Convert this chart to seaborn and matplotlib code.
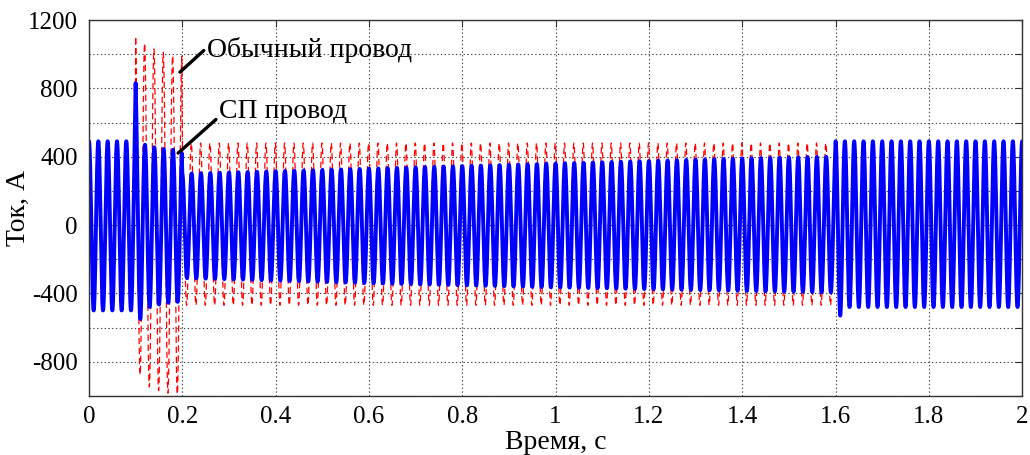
import numpy as np
import pandas as pd
import matplotlib
matplotlib.use("Agg")
import matplotlib.pyplot as plt
import seaborn as sns

# ---- data (envelope breakpoints, 50 Hz current) ----
freq_hz = 50
# Ordinary wire (red, dashed): positive / negative peak envelope
red_t_pos = [0.0, 0.099, 0.10, 0.12, 0.14, 0.16, 0.18, 0.199, 0.20, 2.0]
red_v_pos = [480, 480, 1140, 1060, 1030, 1010, 990, 990, 480, 480]
red_t_neg = [0.0, 0.099, 0.11, 0.13, 0.15, 0.17, 0.19, 0.199, 0.20, 2.0]
red_v_neg = [-470, -470, -900, -950, -970, -985, -990, -990, -470, -470]
# Superconducting wire (blue, thick)
blue_t_pos = [0.0, 0.095, 0.10, 0.105, 0.12, 0.14, 0.16, 0.18, 0.199, 0.20, 0.6, 1.0, 1.4, 1.599, 1.60, 2.0]
blue_v_pos = [490, 490, 830, 480, 470, 455, 445, 440, 440, 300, 330, 360, 390, 400, 490, 490]
blue_t_neg = [0.0, 0.099, 0.11, 0.13, 0.15, 0.17, 0.19, 0.199, 0.20, 0.6, 1.0, 1.4, 1.599, 1.61, 1.63, 2.0]
blue_v_neg = [-500, -500, -550, -480, -465, -455, -450, -450, -310, -340, -365, -385, -395, -530, -480, -480]

x_ticks = [0, 0.2, 0.4, 0.6, 0.8, 1, 1.2, 1.4, 1.6, 1.8, 2]
x_tick_labels = ["0", "0.2", "0.4", "0.6", "0.8", "1", "1.2", "1.4", "1.6", "1.8", "2"]
y_ticks = [-1000, -800, -600, -400, -200, 0, 200, 400, 600, 800, 1000, 1200]
y_tick_labels = ["", "-800", "", "-400", "", "0", "", "400", "", "800", "", "1200"]

t = np.linspace(0, 2, 40001)


def waveform(tp, vp, tn, vn, phase):
    s = np.cos(2 * np.pi * freq_hz * t + phase)
    pos = np.interp(t, tp, vp)
    neg = -np.interp(t, tn, vn)
    return np.where(s >= 0, pos * s, neg * s)


red = waveform(red_t_pos, red_v_pos, red_t_neg, red_v_neg, 0.25)
blue = waveform(blue_t_pos, blue_v_pos, blue_t_neg, blue_v_neg, 0.0)
df = pd.DataFrame({"t": np.concatenate([t, t]),
                   "I": np.concatenate([red, blue]),
                   "wire": ["Обычный провод"] * len(t) + ["СП провод"] * len(t)})

sns.set_theme(style="white")
plt.rcParams["font.family"] = ["Liberation Serif", "DejaVu Serif"]
plt.rcParams["xtick.direction"] = "in"
plt.rcParams["ytick.direction"] = "in"
plt.rcParams["text.color"] = "black"
plt.rcParams["axes.labelcolor"] = "black"
plt.rcParams["xtick.labelcolor"] = "black"
plt.rcParams["ytick.labelcolor"] = "black"

fig = plt.figure(figsize=(10.3, 4.55), dpi=100)
ax = fig.add_axes([0.0864, 0.130, 0.906, 0.826])

sns.lineplot(data=df[df.wire == "Обычный провод"], x="t", y="I", ax=ax,
             color="#ff0000", lw=0.9, estimator=None, sort=False, legend=False)
ax.lines[-1].set_linestyle((0, (5, 3)))
sns.lineplot(data=df[df.wire == "СП провод"], x="t", y="I", ax=ax,
             color="#0000ff", lw=2.8, estimator=None, sort=False, legend=False)

ax.set_xlim(0, 2)
ax.set_ylim(-1000, 1200)
ax.set_xticks(x_ticks)
ax.set_xticklabels(x_tick_labels)
ax.set_yticks(y_ticks)
ax.set_yticklabels(y_tick_labels)
ax.tick_params(axis="x", labelsize=18, pad=7, labelcolor="black")
ax.tick_params(axis="y", labelsize=18, pad=8, labelcolor="black")
ax.tick_params(axis="both", length=5, width=0.8, color="#333333",
               top=True, right=True)
ax.grid(True, color="#444444", linestyle=(0, (1.2, 2.2)), linewidth=0.8)
for sp in ax.spines.values():
    sp.set_color("#333333")
    sp.set_linewidth(1.0)
ax.set_xlabel("Время, с", fontsize=20, labelpad=2, color="black")
ax.set_ylabel("Ток, А", fontsize=20, color="black")
ax.yaxis.set_label_coords(-0.062, 0.5)

ax.annotate("Обычный провод", xy=(0.195, 895), xytext=(0.253, 983),
            fontsize=20, va="baseline", ha="left", color="black",
            arrowprops=dict(arrowstyle="-", color="black", lw=2.4,
                            shrinkA=0, shrinkB=0,
                            relpos=(0, 0.6)))
ax.annotate("СП провод", xy=(0.191, 421), xytext=(0.279, 626),
            fontsize=20, va="baseline", ha="left", color="black",
            arrowprops=dict(arrowstyle="-", color="black", lw=2.4,
                            shrinkA=0, shrinkB=0,
                            relpos=(0, 0.3)))

fig.savefig("out.png", dpi=100)
